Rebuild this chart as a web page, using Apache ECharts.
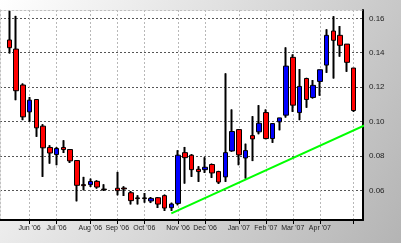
<!DOCTYPE html>
<html><head><meta charset="utf-8">
<script src="https://cdn.jsdelivr.net/npm/echarts@6/dist/echarts.min.js"></script>
<style>html,body{margin:0;padding:0;background:#fff;}#c{width:401px;height:243px;}</style>
</head><body><div id="c"></div>
<script>
// Week index (week 15 has no candle)
const weeks  = [0,1,2,3,4,5,6,7,8,9,10,11,12,13,14,16,17,18,19,20,21,22,23,24,25,26,27,28,29,30,31,32,33,34,35,36,37,38,39,40,41,42,43,44,45,46,47,48,49,50,51];
const opens  = [0.1474,0.1421,0.1212,0.1056,0.1128,0.0973,0.0849,0.0808,0.0849,0.0837,0.0773,0.0633,0.0633,0.0652,0.0607,
                0.0612,0.0613,0.0586,0.0556,0.0556,0.0538,0.0557,0.0569,0.0499,0.0524,0.0819,0.0804,0.0722,0.0720,0.0750,0.0709,
                0.0678,0.0829,0.0953,0.0788,0.0918,0.0940,0.1052,0.0901,0.0998,0.1037,0.1373,0.1052,0.1250,0.1140,0.1233,0.1328,
                0.1526,0.1501,0.1450,0.1311];
const closes = [0.1429,0.1179,0.1027,0.1124,0.0963,0.0847,0.0817,0.0843,0.0837,0.0771,0.0629,0.0627,0.0651,0.0619,0.0604,
                0.0598,0.0608,0.0540,0.0552,0.0552,0.0553,0.0520,0.0497,0.0520,0.0804,0.0790,0.0720,0.0709,0.0734,0.0701,0.0648,
                0.0819,0.0942,0.0806,0.0831,0.0899,0.0990,0.0901,0.0988,0.1021,0.1322,0.1095,0.1204,0.1128,0.1210,0.1301,0.1501,
                0.1472,0.1443,0.1344,0.1064];
const lows   = [0.1396,0.1124,0.1008,0.0998,0.0911,0.0678,0.0755,0.0746,0.0817,0.0759,0.0536,0.0600,0.0619,0.0610,0.0596,
                0.0571,0.0567,0.0518,0.0518,0.0528,0.0526,0.0497,0.0480,0.0480,0.0513,0.0639,0.0678,0.0649,0.0701,0.0672,0.0637,
                0.0649,0.0825,0.0746,0.0668,0.0770,0.0926,0.0897,0.0876,0.0949,0.1023,0.1056,0.1008,0.1080,0.1134,0.1150,0.1283,
                0.1250,0.1377,0.1289,0.1056];
const highs  = [0.1643,0.1614,0.1221,0.1142,0.1130,0.0984,0.0862,0.0852,0.0891,0.0839,0.0775,0.0678,0.0668,0.0658,0.0635,
                0.0707,0.0623,0.0596,0.0571,0.0584,0.0561,0.0561,0.0575,0.0528,0.0833,0.0852,0.0810,0.0740,0.0792,0.0755,0.0713,
                0.1280,0.1070,0.0955,0.0871,0.1031,0.1095,0.1070,0.0990,0.1021,0.1431,0.1390,0.1305,0.1254,0.1241,0.1301,0.1536,
                0.1612,0.1555,0.1450,0.1311];
const monthTicks  = [3,7,12,16,20,25,29,34,38,42,46,51];
const monthLabels = ["Jun '06","Jul '06","Aug '06","Sep '06","Oct '06","Nov '06","Dec '06","Jan '07","Feb '07","Mar '07","Apr '07",""];
const yTicks = [0.06,0.08,0.10,0.12,0.14,0.16];
const trendX = [24, 58];
const trendY = [0.0466, 0.1074];

const X_MIN = -1.38, X_MAX = 52.4, Y_MIN = 0.04274, Y_MAX = 0.16483;

const ohlc = weeks.map((w,i)=>[w, opens[i], closes[i], lows[i], highs[i]]);
const trend = trendX.map((x,i)=>[x, trendY[i]]);

const chart = echarts.init(document.getElementById('c'), null, {renderer:'canvas'});
chart.setOption({
  animation:false,
  backgroundColor:{type:'linear',x:0,y:0,x2:1,y2:1,colorStops:[{offset:0,color:'#ffffff'},{offset:1,color:'#b4b4b4'}]},
  textStyle:{fontFamily:'Liberation Sans'},
  grid:{left:0,right:38,top:10,bottom:23,show:true,backgroundColor:'#ffffff',borderWidth:0,containLabel:false,outerBoundsMode:'none'},
  xAxis:[{
    type:'value', min:X_MIN, max:X_MAX, position:'bottom',
    axisLine:{show:true,onZero:false,lineStyle:{color:'#000',width:2}},
    axisTick:{show:true,customValues:monthTicks,length:4,lineStyle:{color:'#000',width:1}},
    axisLabel:{customValues:monthTicks.slice(0,11),formatter:v=>monthLabels[monthTicks.indexOf(Math.round(v))],
               fontSize:7,color:'#222',margin:5,fontFamily:'Liberation Sans'},
    splitLine:{show:true,lineStyle:{color:'#b8b8b8',type:[2,2],width:1}}
  },{
    type:'value', min:X_MIN, max:X_MAX, position:'top',
    axisLine:{show:true,onZero:false,lineStyle:{color:'#c0c0c0',type:[2,2],width:1}},
    axisTick:{show:false},axisLabel:{show:false},splitLine:{show:false}
  }],
  yAxis:[{
    type:'value', min:Y_MIN, max:Y_MAX, position:'right',
    axisLine:{show:true,onZero:false,lineStyle:{color:'#000',width:2}},
    axisTick:{show:false,customValues:yTicks},
    axisLabel:{customValues:yTicks,formatter:v=>v.toFixed(2),fontSize:8,color:'#222',margin:6,fontFamily:'Liberation Sans'},
    splitLine:{show:true,lineStyle:{color:'#555',type:[2,2],width:1}}
  },{
    type:'value', min:Y_MIN, max:Y_MAX, position:'left',
    axisLine:{show:true,onZero:false,lineStyle:{color:'#c0c0c0',type:[2,2],width:1}},
    axisTick:{show:false},axisLabel:{show:false},splitLine:{show:false}
  }],
  series:[{
    type:'candlestick', data:ohlc, barWidth:1,
    itemStyle:{color:'#000',color0:'#000',borderColor:'#000',borderColor0:'#000',borderColorDoji:'#000',borderWidth:2},
    emphasis:{disabled:true}, silent:true
  },{
    type:'candlestick', data:ohlc, barWidth:5,
    itemStyle:{color:'#0000ff',color0:'#ff0000',borderColor:'#000',borderColor0:'#000',borderColorDoji:'#000',borderWidth:1},
    emphasis:{disabled:true}, silent:true
  },{
    type:'line', data:trend, clip:false, symbol:'none', z:5,
    lineStyle:{color:'#00ff00',width:2}, silent:true
  }]
});
</script>
</body></html>
